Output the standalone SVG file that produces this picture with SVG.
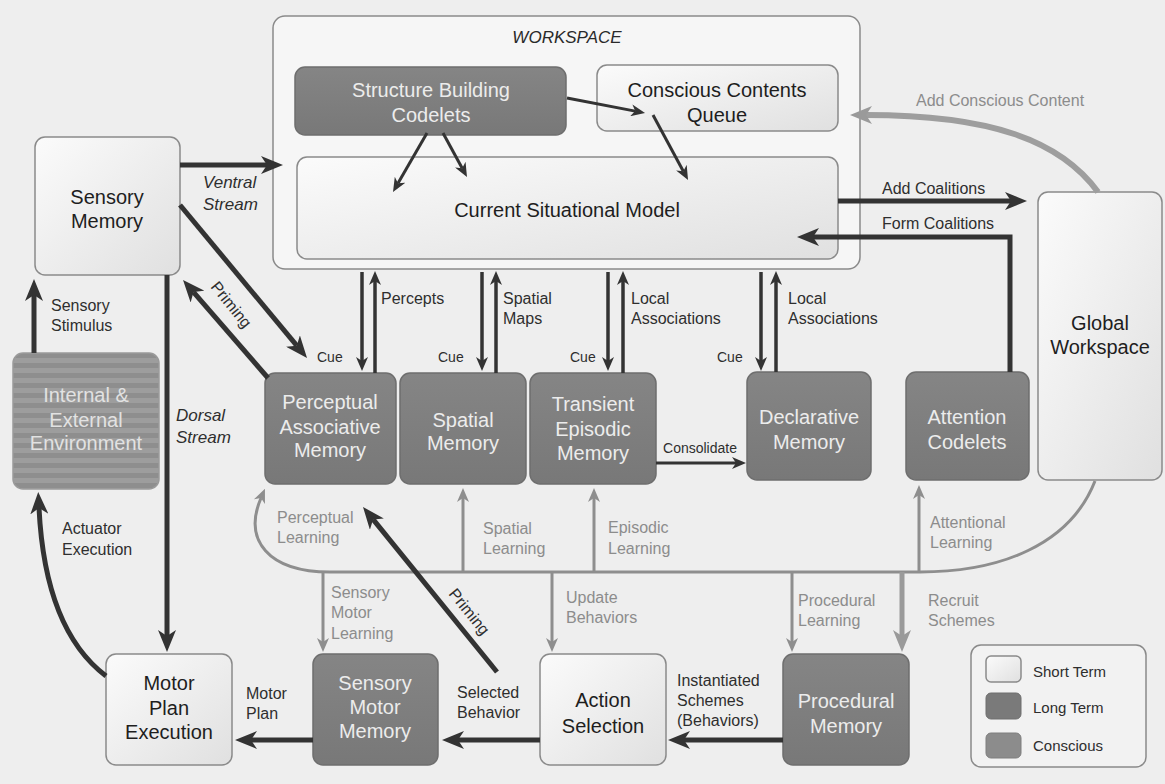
<svg xmlns="http://www.w3.org/2000/svg" width="1165" height="784" viewBox="0 0 1165 784">
<defs>
<linearGradient id="gLight" x1="0" y1="0" x2="1" y2="1">
<stop offset="0" stop-color="#fbfbfb"/><stop offset="1" stop-color="#e0e0e0"/>
</linearGradient>
<linearGradient id="gDark" x1="0" y1="0" x2="0" y2="1">
<stop offset="0" stop-color="#858585"/><stop offset="1" stop-color="#787878"/>
</linearGradient>
<pattern id="stripes" x="0" y="353" width="10" height="10" patternUnits="userSpaceOnUse">
<rect width="10" height="10" fill="#8e8e8e"/><rect y="5" width="10" height="5" fill="#9d9d9d"/>
</pattern>
<marker id="ah" viewBox="0 0 22 18" markerWidth="22" markerHeight="18" refX="6" refY="9" orient="auto" markerUnits="userSpaceOnUse">
<path d="M0,0 L22,9 L0,18 L6,9 z" fill="#333"/>
</marker>
<marker id="ahs" viewBox="0 0 14 12" markerWidth="14" markerHeight="12" refX="4" refY="6" orient="auto" markerUnits="userSpaceOnUse">
<path d="M0,0 L14,6 L0,12 L4,6 z" fill="#333"/>
</marker>
<marker id="ahg" viewBox="0 0 14 12" markerWidth="14" markerHeight="12" refX="4" refY="6" orient="auto" markerUnits="userSpaceOnUse">
<path d="M0,0 L14,6 L0,12 L4,6 z" fill="#8e8e8e"/>
</marker>
<marker id="ahgl" viewBox="0 0 22 18" markerWidth="22" markerHeight="18" refX="6" refY="9" orient="auto" markerUnits="userSpaceOnUse">
<path d="M0,0 L22,9 L0,18 L6,9 z" fill="#9a9a9a"/>
</marker>
</defs>
<style>
text{font-family:"Liberation Sans",Arial,sans-serif;}
.box{stroke:#8a8a8a;stroke-width:1.5;}
.light{fill:url(#gLight);}
.dark{fill:url(#gDark);stroke:#6e6e6e;stroke-width:1.5;}
.nt{font-size:20px;text-anchor:middle;fill:#1e1e1e;}
.ntl{font-size:20px;text-anchor:middle;fill:#ececec;}
.el{font-size:16px;fill:#2e2e2e;}
.eli{font-size:17px;fill:#2e2e2e;font-style:italic;}
.gl{font-size:16px;fill:#8c8c8c;}
.cue{font-size:14px;fill:#2e2e2e;}
.thick{fill:none;stroke:#333;stroke-width:5;}
.med{fill:none;stroke:#333;stroke-width:3.5;}
.thin{fill:none;stroke:#333;stroke-width:3;}
.gline{fill:none;stroke:#8e8e8e;stroke-width:3;}
</style>
<rect x="0" y="0" width="1165" height="784" fill="#eeeeee"/>

<g id="workspace">
<rect x="273" y="16" width="587" height="253" rx="12" fill="#f6f6f6" class="box"/>
<text x="567" y="43" style="font-size:17px;font-style:italic;text-anchor:middle;fill:#2a2a2a">WORKSPACE</text>
</g>
<g id="structure-building-codelets">
<rect x="295" y="67" width="271" height="68" rx="10" class="dark"/>
<text class="ntl" x="431" y="97">Structure Building</text>
<text class="ntl" x="431" y="122">Codelets</text>
</g>
<g id="conscious-contents-queue">
<rect x="597" y="65" width="241" height="66" rx="10" class="light box"/>
<text class="nt" x="717" y="97">Conscious Contents</text>
<text class="nt" x="717" y="122">Queue</text>
</g>
<g id="current-situational-model">
<rect x="297" y="157" width="541" height="102" rx="10" class="light box"/>
<text class="nt" x="567" y="217">Current Situational Model</text>
</g>
<g id="sensory-memory">
<rect x="35" y="137" width="145" height="138" rx="10" class="light box"/>
<text class="nt" x="107" y="204">Sensory</text>
<text class="nt" x="107" y="228">Memory</text>
</g>
<g id="environment">
<rect x="13" y="353" width="146" height="136" rx="10" fill="url(#stripes)" stroke="#9a9a9a" stroke-width="1.5"/>
<text class="ntl" x="86" y="402" style="fill:#e2e2e2">Internal &amp;</text>
<text class="ntl" x="86" y="427" style="fill:#e2e2e2">External</text>
<text class="ntl" x="86" y="450" style="fill:#e2e2e2">Environment</text>
</g>
<g id="perceptual-associative-memory">
<rect x="265" y="373" width="131" height="111" rx="10" class="dark"/>
<text class="ntl" x="330" y="409">Perceptual</text>
<text class="ntl" x="330" y="434">Associative</text>
<text class="ntl" x="330" y="457">Memory</text>
</g>
<g id="spatial-memory">
<rect x="400" y="373" width="126" height="111" rx="10" class="dark"/>
<text class="ntl" x="463" y="427">Spatial</text>
<text class="ntl" x="463" y="450">Memory</text>
</g>
<g id="transient-episodic-memory">
<rect x="530" y="373" width="126" height="111" rx="10" class="dark"/>
<text class="ntl" x="593" y="411">Transient</text>
<text class="ntl" x="593" y="436">Episodic</text>
<text class="ntl" x="593" y="460">Memory</text>
</g>
<g id="declarative-memory">
<rect x="747" y="372" width="124" height="108" rx="10" class="dark"/>
<text class="ntl" x="809" y="424">Declarative</text>
<text class="ntl" x="809" y="449">Memory</text>
</g>
<g id="attention-codelets">
<rect x="906" y="372" width="123" height="108" rx="10" class="dark"/>
<text class="ntl" x="967" y="424">Attention</text>
<text class="ntl" x="967" y="449">Codelets</text>
</g>
<g id="global-workspace">
<rect x="1038" y="192" width="124" height="288" rx="10" class="light box"/>
<text class="nt" x="1100" y="330">Global</text>
<text class="nt" x="1100" y="354">Workspace</text>
</g>
<g id="motor-plan-execution">
<rect x="106" y="654" width="126" height="111" rx="10" class="light box"/>
<text class="nt" x="169" y="690">Motor</text>
<text class="nt" x="169" y="715">Plan</text>
<text class="nt" x="169" y="739">Execution</text>
</g>
<g id="sensory-motor-memory">
<rect x="313" y="654" width="125" height="111" rx="10" class="dark"/>
<text class="ntl" x="375" y="690">Sensory</text>
<text class="ntl" x="375" y="714">Motor</text>
<text class="ntl" x="375" y="738">Memory</text>
</g>
<g id="action-selection">
<rect x="540" y="654" width="126" height="111" rx="10" class="light box"/>
<text class="nt" x="603" y="707">Action</text>
<text class="nt" x="603" y="733">Selection</text>
</g>
<g id="procedural-memory">
<rect x="783" y="654" width="126" height="111" rx="10" class="dark"/>
<text class="ntl" x="846" y="708">Procedural</text>
<text class="ntl" x="846" y="733">Memory</text>
</g>
<g id="legend">
<rect x="971" y="645" width="175" height="122" rx="10" fill="#f2f2f2" class="box"/>
<rect x="986" y="656" width="35" height="26" rx="5" class="light box"/>
<rect x="986" y="693" width="35" height="26" rx="5" fill="#7a7a7a" stroke="#6e6e6e"/>
<rect x="986" y="733" width="35" height="25" rx="5" fill="#8c8c8c" stroke="#7e7e7e"/>
<text class="el" x="1033" y="677" style="font-size:15px">Short Term</text>
<text class="el" x="1033" y="713" style="font-size:15px">Long Term</text>
<text class="el" x="1033" y="751" style="font-size:15px">Conscious</text>
</g>

<g id="connectors">
<!-- learning network (gray) -->
<path class="gline" d="M1095,481 C1070,545 1000,572 920,572 L330,572 C268,572 243,540 261,498" marker-end="url(#ahg)"/>
<path class="gline" d="M323,572 L323,642" marker-end="url(#ahg)"/>
<path class="gline" d="M463,572 L463,498" marker-end="url(#ahg)"/>
<path class="gline" d="M594,572 L594,498" marker-end="url(#ahg)"/>
<path class="gline" d="M552,572 L552,642" marker-end="url(#ahg)"/>
<path class="gline" d="M919,572 L919,495" marker-end="url(#ahg)"/>
<path class="gline" d="M792,572 L792,642" marker-end="url(#ahg)"/>
<path d="M902,572 L902,636" fill="none" stroke="#9a9a9a" stroke-width="5" marker-end="url(#ahgl)"/>
<path d="M1098,192 C1060,140 990,115 866,115" fill="none" stroke="#9e9e9e" stroke-width="6" marker-end="url(#ahgl)"/>

<!-- dark main arrows -->
<path class="thick" d="M180,165 L267,165" marker-end="url(#ah)"/>
<path class="thick" d="M180,205 L296.8,345.7" marker-end="url(#ah)"/>
<path class="thick" d="M268,378 L193.5,292.1" marker-end="url(#ah)"/>
<path class="thick" d="M167,275 L167,636" marker-end="url(#ah)"/>
<path class="thick" d="M34,353 L34,295" marker-end="url(#ah)"/>
<path class="thick" d="M106,676 Q45,630 39,508" marker-end="url(#ah)"/>
<path class="thick" d="M313,740 L251,740" marker-end="url(#ah)"/>
<path class="thick" d="M540,740 L458,740" marker-end="url(#ah)"/>
<path class="thick" d="M783,740 L684,740" marker-end="url(#ah)"/>
<path class="thick" d="M497,672 L373.1,519.4" marker-end="url(#ah)"/>
<path class="thick" d="M838,201 L1011,201" marker-end="url(#ah)"/>
<path class="thick" d="M1010,372 L1010,237 L813,237" marker-end="url(#ah)"/>

<!-- cue / retrieval pairs -->
<path class="med" d="M362,272 L362,361" marker-end="url(#ahs)"/>
<path class="med" d="M375,373 L375,281" marker-end="url(#ahs)"/>
<path class="med" d="M482,272 L482,361" marker-end="url(#ahs)"/>
<path class="med" d="M496,373 L496,281" marker-end="url(#ahs)"/>
<path class="med" d="M608,272 L608,361" marker-end="url(#ahs)"/>
<path class="med" d="M623,373 L623,281" marker-end="url(#ahs)"/>
<path class="med" d="M761,272 L761,361" marker-end="url(#ahs)"/>
<path class="med" d="M776,372 L776,281" marker-end="url(#ahs)"/>
<path class="thin" d="M656,463 L736,463" marker-end="url(#ahs)"/>

<!-- workspace internal -->
<path class="thin" d="M567,98 L635.2,111.1" marker-end="url(#ahs)"/>
<path class="thin" d="M427,133 L398,183.3" marker-end="url(#ahs)"/>
<path class="thin" d="M443,133 L462.2,168.2" marker-end="url(#ahs)"/>
<path class="thin" d="M653,115 L683.3,171.2" marker-end="url(#ahs)"/>

<!-- labels -->
<text class="eli" x="203" y="188">Ventral</text>
<text class="eli" x="203" y="210">Stream</text>
<text class="eli" x="176" y="421">Dorsal</text>
<text class="eli" x="176" y="443">Stream</text>
<text class="el" transform="translate(231,305) rotate(51)" text-anchor="middle" y="5">Priming</text>
<text class="el" transform="translate(469,612) rotate(51)" text-anchor="middle" y="5">Priming</text>
<text class="el" x="51" y="311">Sensory</text>
<text class="el" x="51" y="331">Stimulus</text>
<text class="el" x="62" y="534">Actuator</text>
<text class="el" x="62" y="555">Execution</text>
<text class="el" x="246" y="699">Motor</text>
<text class="el" x="246" y="719">Plan</text>
<text class="el" x="457" y="698">Selected</text>
<text class="el" x="457" y="718">Behavior</text>
<text class="el" x="677" y="686">Instantiated</text>
<text class="el" x="677" y="706">Schemes</text>
<text class="el" x="677" y="726">(Behaviors)</text>
<text class="el" x="381" y="304">Percepts</text>
<text class="el" x="503" y="304">Spatial</text>
<text class="el" x="503" y="324">Maps</text>
<text class="el" x="631" y="304">Local</text>
<text class="el" x="631" y="324">Associations</text>
<text class="el" x="788" y="304">Local</text>
<text class="el" x="788" y="324">Associations</text>
<text class="cue" x="317" y="362">Cue</text>
<text class="cue" x="438" y="362">Cue</text>
<text class="cue" x="570" y="362">Cue</text>
<text class="cue" x="717" y="362">Cue</text>
<text class="cue" x="700" y="453" text-anchor="middle">Consolidate</text>
<text class="el" x="882" y="194">Add Coalitions</text>
<text class="el" x="882" y="229">Form Coalitions</text>
<text class="gl" x="916" y="106">Add Conscious Content</text>
<text class="gl" x="277" y="523">Perceptual</text>
<text class="gl" x="277" y="543">Learning</text>
<text class="gl" x="483" y="534">Spatial</text>
<text class="gl" x="483" y="554">Learning</text>
<text class="gl" x="608" y="533">Episodic</text>
<text class="gl" x="608" y="554">Learning</text>
<text class="gl" x="930" y="528">Attentional</text>
<text class="gl" x="930" y="548">Learning</text>
<text class="gl" x="331" y="598">Sensory</text>
<text class="gl" x="331" y="618">Motor</text>
<text class="gl" x="331" y="639">Learning</text>
<text class="gl" x="566" y="603">Update</text>
<text class="gl" x="566" y="623">Behaviors</text>
<text class="gl" x="798" y="606">Procedural</text>
<text class="gl" x="798" y="626">Learning</text>
<text class="gl" x="928" y="606">Recruit</text>
<text class="gl" x="928" y="626">Schemes</text>
</g>
</svg>
